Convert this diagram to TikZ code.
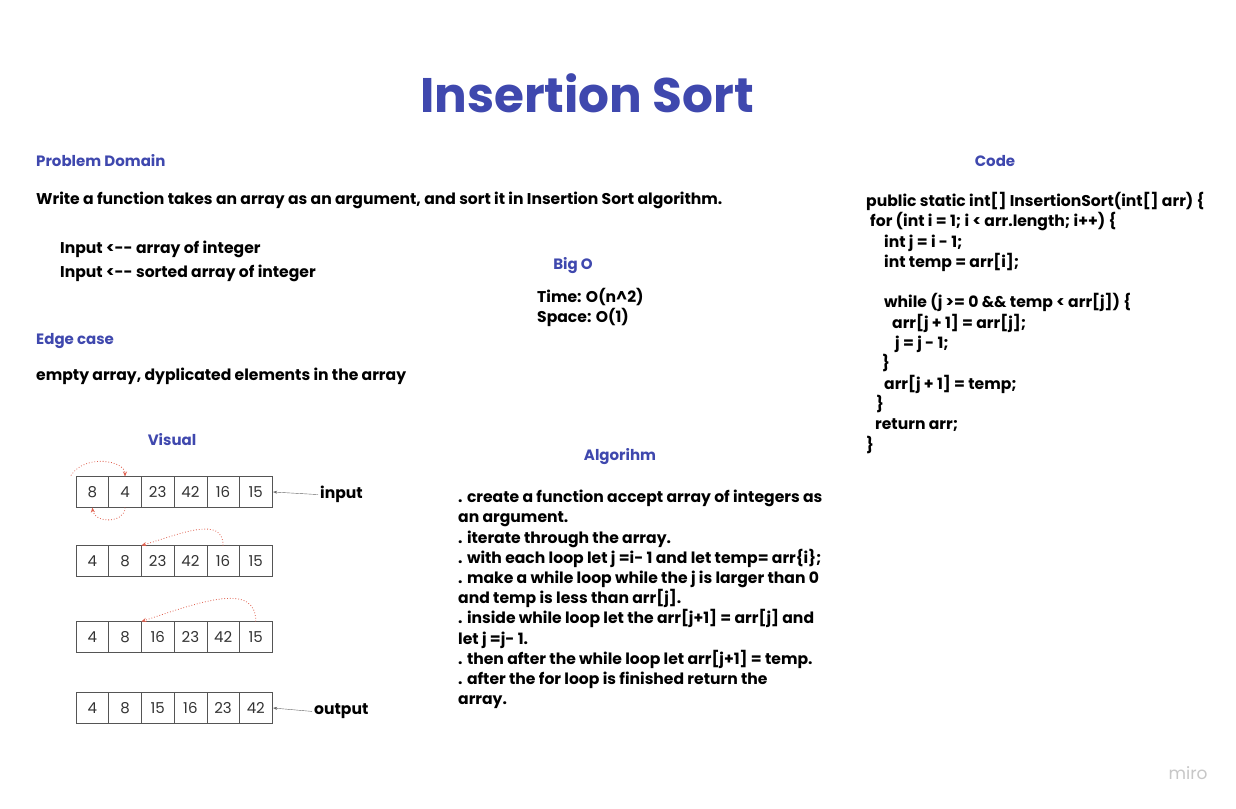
\documentclass[tikz,border=0pt]{standalone}
\usepackage{fontspec}
\setmainfont{Poppins}
\usetikzlibrary{positioning,arrows.meta}
\definecolor{headblue}{HTML}{3F48AE}
\definecolor{arcred}{HTML}{E0604F}
\definecolor{cellgray}{HTML}{555555}

\begin{document}
\begin{tikzpicture}[
  x=1pt, y=-1pt,
  head/.style={font=\bfseries\fontsize{15}{18}\selectfont, text=headblue, inner sep=0},
  body/.style={font=\bfseries\fontsize{15.6}{20.2}\selectfont, align=left, inner sep=0, anchor=north west},
  line/.style={font=\bfseries\fontsize{15.6}{18}\selectfont, inner sep=0, anchor=mid west},
  cell/.style={draw=cellgray, minimum width=32.7pt, minimum height=31pt, inner sep=0, outer sep=0, font=\fontsize{15}{18}\selectfont, text=black!80},
  tag/.style={font=\bfseries\fontsize{15.6}{18}\selectfont, inner sep=0, anchor=mid west},
  pointer/.style={-{Stealth[length=4pt,width=3pt]}, draw=black!60},
  swap/.style={-{Stealth[length=5pt,width=4pt]}, draw=arcred, dotted, line width=.8pt}
]
\useasboundingbox[fill=white] (0,0) rectangle (1236,808);

% title and headings
\node[font=\bfseries\fontsize{48.5}{52}\selectfont, text=headblue] (title) at (587,93) {Insertion Sort};
\node[head, anchor=mid west] (domain) at (36,164) {Problem Domain};
\node[head, anchor=mid west] (edge) at (36,342) {Edge case};
\node[head] (bigo) at (573,266) {Big O};
\node[head] (code) at (995,161) {Code};
\node[head] (visual) at (172,440) {Visual};
\node[head] (algo) at (620,457) {Algorihm};

% text blocks
\node[line] (task) at (36,202) {Write a function takes an array as an argument, and sort it in Insertion Sort algorithm.};
\node[body, font=\bfseries\fontsize{15.6}{24}\selectfont] (io) at (60,241) {Input <-{}- array of integer\\Input <-{}- sorted array of integer};
\node[line] (cases) at (36,378) {empty array, dyplicated elements in the array};
\node[body] (cost) at (537,288) {Time: O(n\textasciicircum 2)\\Space: O(1)};
\node[body] (steps) at (458,490) {. create a function accept array of integers as\\an argument.\\. iterate through the array.\\. with each loop let j =i- 1 and let temp= arr\{i\};\\. make a while loop while the j is larger than 0\\and temp is less than arr[j].\\. inside while loop let the arr[j+1] = arr[j] and\\let j =j- 1.\\. then after the while loop let arr[j+1] = temp.\\. after the for loop is finished return the\\array.};
\node[body, font=\bfseries\fontsize{15.6}{20.3}\selectfont] (java) at (866,192) {public static int[] InsertionSort(int[] arr) \{\\
\hspace*{4pt}for (int i = 1; i < arr.length; i++) \{\\
\hspace*{18pt}int j = i - 1;\\
\hspace*{18pt}int temp = arr[i];\\[20.3pt]
\hspace*{18pt}while (j >= 0 \&\& temp < arr[j]) \{\\
\hspace*{26pt}arr[j + 1] = arr[j];\\
\hspace*{29pt}j = j - 1;\\
\hspace*{16pt}\}\\
\hspace*{18pt}arr[j + 1] = temp;\\
\hspace*{10pt}\}\\
\hspace*{9pt}return arr;\\
\}};

% arrays
\node[cell] (a1) at (92.3,492) {8};
\node[cell, right=0pt of a1] (a2) {4};
\node[cell, right=0pt of a2] (a3) {23};
\node[cell, right=0pt of a3] (a4) {42};
\node[cell, right=0pt of a4] (a5) {16};
\node[cell, right=0pt of a5] (a6) {15};

\node[cell] (b1) at (92.3,561) {4};
\node[cell, right=0pt of b1] (b2) {8};
\node[cell, right=0pt of b2] (b3) {23};
\node[cell, right=0pt of b3] (b4) {42};
\node[cell, right=0pt of b4] (b5) {16};
\node[cell, right=0pt of b5] (b6) {15};

\node[cell] (c1) at (92.3,637) {4};
\node[cell, right=0pt of c1] (c2) {8};
\node[cell, right=0pt of c2] (c3) {16};
\node[cell, right=0pt of c3] (c4) {23};
\node[cell, right=0pt of c4] (c5) {42};
\node[cell, right=0pt of c5] (c6) {15};

\node[cell] (d1) at (92.3,708) {4};
\node[cell, right=0pt of d1] (d2) {8};
\node[cell, right=0pt of d2] (d3) {15};
\node[cell, right=0pt of d3] (d4) {16};
\node[cell, right=0pt of d4] (d5) {23};
\node[cell, right=0pt of d5] (d6) {42};

\node[tag] (input) at (320,496) {input};
\node[tag] (output) at (314,712) {output};
\draw[pointer] ([xshift=-2pt]input.west) -- ([xshift=1pt]a6.east);
\draw[pointer] ([xshift=-2pt]output.west) -- ([xshift=1pt]d6.east);

% moves
\draw[swap] ([xshift=-5pt,yshift=1pt]a1.north west) .. controls +(14,-22) and +(0,-16) .. (a2.north);
\draw[swap] (a2.south) .. controls +(0,16) and +(2,16) .. (a1.south);
\draw[swap] (b5.north) .. controls +(0,-30) and +(40,-12) .. (b3.north west);
\draw[swap] (c6.north) .. controls +(0,-40) and +(60,-20) .. (c3.north west);

\node[font=\fontsize{17}{20}\selectfont, text=black!22] (miro) at (1188,773) {miro};
\end{tikzpicture}
\end{document}
